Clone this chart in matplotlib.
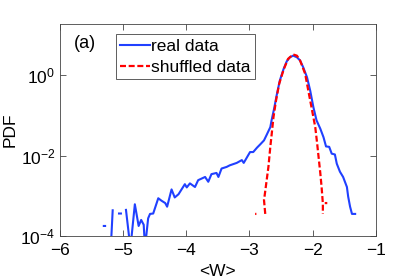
import numpy as np
import matplotlib.pyplot as plt

plt.rcParams['font.family'] = ['Liberation Sans', 'DejaVu Sans']
plt.rcParams['mathtext.fontset'] = 'custom'
plt.rcParams['mathtext.rm'] = 'Liberation Sans'
plt.rcParams['mathtext.it'] = 'Liberation Sans:italic'
plt.rcParams['font.size'] = 12.5

# real data: <W> and log10(PDF); nan marks gaps in the curve
real_w = [-5.30, -5.28, np.nan, -5.19, -5.16, np.nan, -5.06, -5.03, np.nan,
          -4.95, -4.88, -4.81, -4.75, -4.71, -4.67, -4.65, -4.60, -4.57,
          -4.52, -4.44, -4.39, -4.33, -4.30, -4.23, -4.18, -4.12, -4.02,
          -3.99, -3.94, -3.86, -3.81, -3.70, -3.65, -3.60, -3.52, -3.49,
          -3.44, -3.36, -3.31, -3.20, -3.12, -3.09, -3.02, -2.99, -2.94,
          -2.88, -2.83, -2.77, -2.73, -2.67, -2.65, -2.61, -2.57, -2.52,
          -2.46, -2.41, -2.36, -2.31, -2.25, -2.20, -2.15, -2.09, -2.04,
          -1.99, -1.94, -1.88, -1.83, -1.79, -1.74, -1.70, -1.65, -1.62,
          -1.57, -1.52, -1.46, -1.44, -1.41, -1.38, -1.33]
real_logpdf = [-3.75, -3.75, np.nan, -4.3, -3.36, np.nan, -3.44, -3.44, np.nan,
               -3.35, -4.3, -3.21, -3.75, -3.60, -3.72, -4.3, -3.56, -3.45,
               -3.44, -3.06, -3.12, -3.18, -3.27, -2.84, -3.04, -2.96, -2.71,
               -2.79, -2.69, -2.78, -2.61, -2.53, -2.65, -2.46, -2.43, -2.53,
               -2.32, -2.28, -2.24, -2.18, -2.11, -2.18, -1.99, -1.91, -1.91,
               -1.80, -1.72, -1.62, -1.49, -1.29, -1.12, -0.83, -0.50, -0.13,
               0.16, 0.35, 0.45, 0.49, 0.45, 0.37, 0.20, -0.05, -0.38,
               -0.79, -1.12, -1.33, -1.54, -1.77, -1.78, -1.95, -1.97, -2.20,
               -2.40, -2.53, -2.78, -3.02, -3.27, -3.45, -3.45]

# shuffled data
shuf_w = [-2.91, -2.89, np.nan, -2.75, -2.77, -2.76, -2.70, -2.67, -2.65,
          -2.62, -2.58, -2.53, -2.46, -2.39, -2.31, -2.25, -2.20, -2.12,
          -2.07, -2.02, -1.96, -1.93, -1.88, -1.86, -1.84, -1.84, np.nan,
          -1.81, -1.77]
shuf_logpdf = [-3.45, -3.45, np.nan, -3.45, -3.10, -3.00, -2.28, -1.78, -1.49,
               -1.04, -0.63, -0.21, 0.14, 0.41, 0.52, 0.49, 0.37, 0.04,
               -0.38, -0.79, -1.29, -1.70, -2.44, -2.78, -3.19, -3.45, np.nan,
               -3.18, -3.18]

fig = plt.figure(figsize=(4.15, 2.79), dpi=100)
ax = fig.add_axes([0.1434, 0.1541, 0.7627, 0.7616])

ax.plot(real_w, 10 ** np.array(real_logpdf), '-', color='#2040ff',
        lw=1.5, label='real data')
ax.plot(shuf_w, 10 ** np.array(shuf_logpdf), '--', color='#ff0000',
        lw=1.6, dashes=(2.7, 1.2), label='shuffled data')

ax.set_yscale('log')
ax.set_xlim(-6, -1)
ax.set_ylim(1e-4, 19.5)
ax.set_yticks([1e-4, 1e-2, 1e0])
ax.yaxis.set_minor_locator(plt.NullLocator())
ax.set_xticks([-6, -5, -4, -3, -2, -1])
ax.set_xticklabels(['\u22126', '\u22125', '\u22124', '\u22123', '\u22122', '\u22121'])

ax.tick_params(direction='in', length=4, width=0.6, color='#444444',
               top=True, right=True, labelsize=12.5)
ax.tick_params(axis='x', pad=5)
ax.tick_params(axis='y', pad=3)
for s in ax.spines.values():
    s.set_color('#444444')
    s.set_linewidth(0.6)

ax.set_xlabel('<W>', labelpad=4)
ax.set_ylabel('PDF', labelpad=2)
ax.text(0.046, 0.905, '(a)', transform=ax.transAxes, fontsize=13,
        va='center', ha='left')

leg = ax.legend(loc='upper left', bbox_to_anchor=(0.1776, 0.949),
                fancybox=False, framealpha=1, edgecolor='#444444',
                handlelength=1.7, handletextpad=0.1, borderpad=0.25,
                labelspacing=0.35, fontsize=12.5, borderaxespad=0)
leg.get_frame().set_linewidth(0.6)

fig.savefig('out.png', dpi=100)
